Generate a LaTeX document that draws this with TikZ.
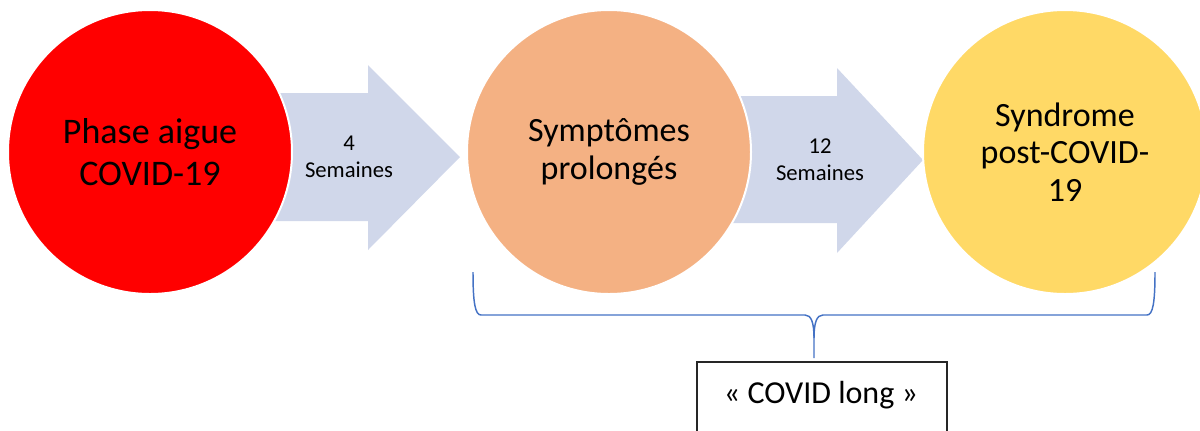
\documentclass[tikz,border=0pt]{standalone}
\usepackage{fontspec}
\setmainfont{Carlito}
\definecolor{acutered}{HTML}{FF0000}
\definecolor{prolonged}{HTML}{F4B183}
\definecolor{postcovid}{HTML}{FFD966}
\definecolor{arrowblue}{HTML}{D0D7EA}
\definecolor{braceblue}{HTML}{4472C4}
\begin{document}
\begin{tikzpicture}[x=0.75pt,y=-0.75pt,
  phase/.style={circle,draw=white,line width=1.5pt,minimum size=213pt,inner sep=0pt,
    align=center,font=\fontsize{25.5}{28}\selectfont},
  blockarrow/.style={fill=arrowblue,draw=none},
  steplabel/.style={align=center,inner sep=0pt,font=\fontsize{17}{20}\selectfont},
  bracket/.style={draw=braceblue,line width=1.1pt},
  labelbox/.style={draw=black!85,line width=1.1pt,fill=white},
]
\useasboundingbox (0,0) rectangle (1200,430);
\clip (0,0) rectangle (1200,430);

% block arrows between the stages
\fill[blockarrow] (260,93) -- (368,93) -- (368,65) -- (460,157) -- (368,250)
  -- (368,221) -- (260,221) -- cycle;
\fill[blockarrow] (725,96) -- (837,96) -- (837,68) -- (923,160) -- (837,253)
  -- (837,223) -- (725,223) -- cycle;
\node[steplabel] (w4) at (349,157) {4\\Semaines};
\node[steplabel] (w12) at (820,160) {12\\Semaines};

% the three stages
\node[phase,fill=acutered,font=\fontsize{27}{31}\selectfont] (acute) at (150,152) {Phase aigue\\COVID-19};
\node[phase,fill=prolonged] (prolonged) at (609,152) {Symptômes\\prolongés};
\node[phase,fill=postcovid] (post) at (1065,152) {Syndrome\\post-COVID-\\19};

% label box
\draw[labelbox] (697,362) rectangle (947,480);
\node[font=\fontsize{24}{28}\selectfont] (longcovid) at (821,395) {« COVID long »};

% brace grouping the last two stages
\coordinate (bl) at (473,272);
\coordinate (br) at (1155,272);
\coordinate (btip) at (814,358);
\draw[bracket] (bl) .. controls (473,302) and (475,315) .. (481,315) -- (805,315)
  .. controls (811,315) and (814,322) .. (814,338) -- (btip);
\draw[bracket] (814,338) .. controls (814,322) and (817,315) .. (823,315) -- (1147,315)
  .. controls (1153,315) and (1155,302) .. (br);
\end{tikzpicture}
\end{document}
